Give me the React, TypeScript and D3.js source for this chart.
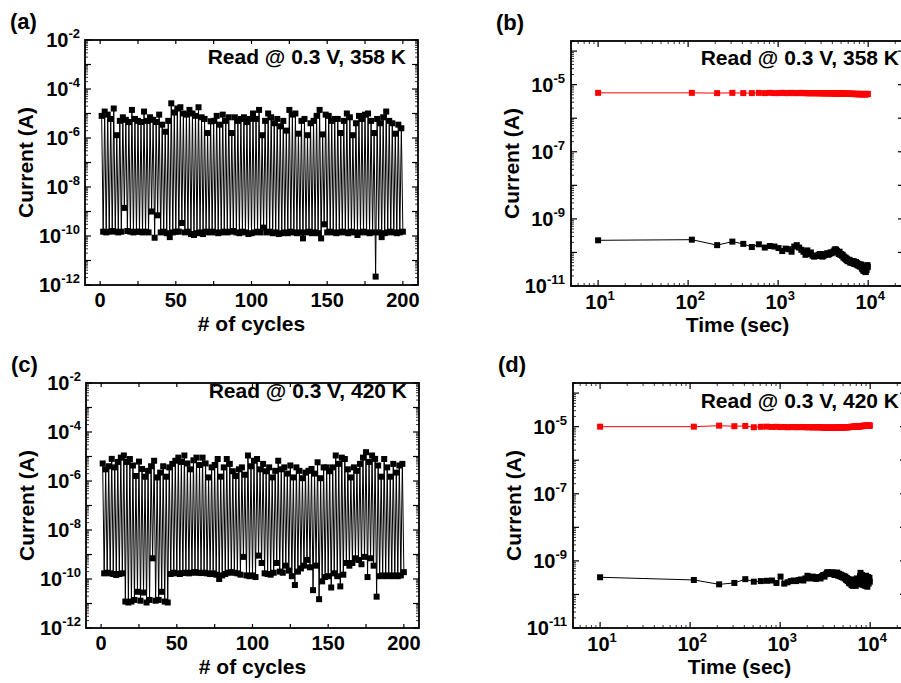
import React from 'react';
import * as d3 from 'd3';

// ---------- DATA ----------
// Panel (a) 358 K cycling: high (LRS) and low (HRS) read currents, cycle 2k+1 / 2k+2
const aHigh = [
  8e-6, 1.2e-5, 9e-6, 6e-6, 1.6e-5, 1.3e-6, 5e-6, 7e-6, 5.5e-6, 4.5e-6,
  1.4e-5, 6e-6, 5e-6, 4.5e-6, 1.2e-5, 5e-6, 7e-6, 5.5e-6, 4.5e-6, 9e-6,
  3.5e-6, 1.8e-6, 5e-6, 2.6e-5, 1.1e-5, 1.6e-5, 1.8e-5, 1e-5, 9e-6, 1.4e-5,
  1e-5, 8e-6, 1.8e-5, 7e-6, 6e-6, 1.6e-6, 4.8e-6, 5e-6, 8e-6, 3.5e-6,
  9e-6, 5e-6, 7e-6, 1.6e-6, 7e-6, 5e-6, 6e-6, 7e-6, 4.5e-6, 6e-6,
  1e-5, 6e-6, 1.4e-5, 1.3e-6, 5e-6, 1e-5, 7e-6, 4e-6, 6e-6, 3e-6,
  5e-6, 2e-6, 1.4e-5, 9e-6, 1e-5, 1.5e-6, 5e-6, 6e-6, 1.3e-6, 4e-6,
  5e-6, 8e-6, 1.4e-5, 1.4e-6, 9e-6, 8e-6, 5e-6, 6e-6, 6e-6, 1.6e-6,
  5e-6, 1e-5, 7e-6, 1.3e-6, 4e-6, 8e-6, 6e-6, 9e-6, 1e-5, 5e-6,
  1.6e-6, 6e-6, 4e-6, 7e-6, 1.2e-5, 5e-6, 4e-6, 1.5e-6, 3.5e-6, 2.5e-6,
];
const aLow = [
  1.5e-10, 1.4e-10, 1.5e-10, 1.6e-10, 1.5e-10, 1.4e-10, 1.5e-10, 1.4e-9, 1.6e-10, 1.5e-10,
  1.4e-10, 1.5e-10, 1.5e-10, 1.4e-10, 1.5e-10, 1.4e-10, 1e-9, 8.5e-11, 7e-10, 1.4e-10,
  1.5e-10, 1.3e-10, 9e-11, 1.4e-10, 1.5e-10, 1.5e-10, 3.4e-10, 1.4e-10, 1.5e-10, 1.2e-10,
  1.1e-10, 1.3e-10, 1.4e-10, 1.2e-10, 1.5e-10, 1.4e-10, 1.5e-10, 1.4e-10, 1.3e-10, 1.4e-10,
  1.5e-10, 1.4e-10, 1.5e-10, 1.6e-10, 1.4e-10, 1.3e-10, 1.5e-10, 1.4e-10, 1.2e-10, 1.3e-10,
  1.4e-10, 1.5e-10, 1.4e-10, 2.2e-10, 1.4e-10, 1.5e-10, 1.3e-10, 1.4e-10, 1.2e-10, 1.3e-10,
  1.4e-10, 1.3e-10, 1.5e-10, 1.4e-10, 1.3e-10, 1.4e-10, 8e-11, 1.4e-10, 1.5e-10, 1.3e-10,
  1.4e-10, 1.3e-10, 8e-11, 3e-10, 1.4e-10, 1.5e-10, 1.4e-10, 1.3e-10, 1.4e-10, 1.5e-10,
  1.4e-10, 1.3e-10, 1.5e-10, 1.4e-10, 1.1e-10, 1.4e-10, 1.5e-10, 1.4e-10, 1.3e-10, 1.4e-10,
  2.2e-12, 1.4e-10, 9e-11, 1.3e-10, 1.4e-10, 1.5e-10, 1.4e-10, 1.3e-10, 1.4e-10, 1.5e-10,
];
// Panel (c) 420 K cycling
const cHigh = [
  5.2e-6, 3e-6, 4e-6, 8e-6, 3.6e-6, 6e-6, 9e-6, 1.1e-5, 6e-6, 7.9e-6,
  4.3e-6, 1.6e-6, 6.2e-6, 3.1e-6, 1.5e-6, 2.6e-6, 4e-6, 6.7e-6, 1.4e-6, 2.2e-6,
  4e-6, 1.5e-6, 3.6e-6, 5e-6, 6.7e-6, 9e-6, 6e-6, 1.1e-5, 5.2e-6, 3e-6,
  7e-6, 9e-6, 4.5e-6, 9e-6, 5.2e-6, 1.4e-6, 3.6e-6, 4.5e-6, 7.9e-6, 1.5e-6,
  3.6e-6, 7.9e-6, 5e-6, 2.5e-6, 1.6e-6, 3e-6, 3.6e-6, 1.8e-6, 1.1e-5, 4e-6,
  6.7e-6, 7.9e-6, 3e-6, 5e-6, 2.5e-6, 3.6e-6, 1.4e-6, 2.6e-6, 6.7e-6, 3e-6,
  3.6e-6, 2e-6, 4.3e-6, 1.4e-6, 3.6e-6, 2.6e-6, 1.3e-6, 2.2e-6, 2.6e-6, 3.1e-6,
  2e-6, 5.8e-6, 1.3e-6, 3.6e-6, 3.6e-6, 2.5e-6, 3.6e-6, 1.1e-5, 5e-6, 9e-6,
  7.9e-6, 3e-6, 1.4e-6, 3.6e-6, 2.6e-6, 5e-6, 9e-6, 1.5e-5, 6e-6, 1.1e-5,
  8e-6, 4.3e-6, 1.5e-6, 7.9e-6, 3.6e-6, 1.5e-6, 5e-6, 2.2e-6, 4.3e-6, 5e-6,
];
const cLow = [
  1.7e-10, 1.8e-10, 1.7e-10, 1.6e-10, 1.45e-10, 1.6e-10, 1.7e-10, 1.2e-11, 1.1e-11, 1.2e-11,
  1.4e-11, 3e-11, 1.3e-11, 2.8e-11, 1.1e-11, 1.4e-11, 7e-10, 1.3e-11, 1.4e-11, 3e-11,
  1.2e-11, 1.1e-11, 1.6e-10, 1.8e-10, 1.7e-10, 1.6e-10, 1.75e-10, 1.8e-10, 1.7e-10, 1.8e-10,
  1.9e-10, 1.8e-10, 1.75e-10, 1.8e-10, 1.7e-10, 1.6e-10, 1.7e-10, 1.5e-10, 1e-10, 1.4e-10,
  1.6e-10, 1.8e-10, 1.9e-10, 1.8e-10, 1.7e-10, 1.5e-10, 8e-10, 1.4e-10, 1.3e-10, 1.4e-10,
  1.2e-10, 9e-10, 4.5e-10, 1.7e-10, 1.6e-10, 1.5e-10, 1.8e-10, 4.5e-10, 2e-10, 1.8e-10,
  3.5e-10, 2.2e-10, 1.3e-10, 5.7e-11, 2e-10, 2.7e-10, 3.5e-10, 6e-10, 3e-10, 3.5e-11,
  3.5e-10, 1.5e-11, 8e-11, 1.2e-10, 1.3e-10, 4.5e-11, 1.7e-10, 1.3e-10, 5e-11, 1.5e-10,
  4.5e-10, 3.5e-10, 4.5e-10, 7e-10, 6e-10, 4e-10, 8e-10, 1.2e-10, 7e-10, 3.5e-10,
  1.9e-11, 1.3e-10, 1.4e-10, 1.3e-10, 1.4e-10, 1.3e-10, 1.4e-10, 1.3e-10, 1.4e-10, 1.9e-10,
];
// Retention time (sec)
const retTime = [
  10, 110, 210, 310, 410, 510, 610, 710, 810, 910,
  1010, 1110, 1210, 1310, 1410, 1510, 1610, 1710, 1810, 1910,
  2010, 2110, 2210, 2310, 2410, 2510, 2610, 2710, 2810, 2910,
  3010, 3110, 3210, 3310, 3410, 3510, 3610, 3710, 3810, 3910,
  4010, 4110, 4210, 4310, 4410, 4510, 4610, 4710, 4810, 4910,
  5010, 5110, 5210, 5310, 5410, 5510, 5610, 5710, 5810, 5910,
  6010, 6110, 6210, 6310, 6410, 6510, 6610, 6710, 6810, 6910,
  7010, 7110, 7210, 7310, 7410, 7510, 7610, 7710, 7810, 7910,
  8010, 8110, 8210, 8310, 8410, 8510, 8610, 8710, 8810, 8910,
  9010, 9110, 9210, 9310, 9410, 9510, 9610, 9710, 9810, 9910,
];
// Panel (b) 358 K retention
const bRed = [
  5.7e-6, 5.7e-6, 5.6e-6, 5.7e-6, 5.6e-6, 5.6e-6, 5.7e-6, 5.6e-6, 5.7e-6, 5.6e-6,
  5.6e-6, 5.7e-6, 5.6e-6, 5.6e-6, 5.7e-6, 5.6e-6, 5.6e-6, 5.6e-6, 5.7e-6, 5.6e-6,
  5.6e-6, 5.6e-6, 5.5e-6, 5.6e-6, 5.6e-6, 5.5e-6, 5.6e-6, 5.6e-6, 5.5e-6, 5.6e-6,
  5.5e-6, 5.6e-6, 5.5e-6, 5.5e-6, 5.6e-6, 5.5e-6, 5.5e-6, 5.5e-6, 5.6e-6, 5.5e-6,
  5.5e-6, 5.5e-6, 5.4e-6, 5.5e-6, 5.5e-6, 5.4e-6, 5.5e-6, 5.5e-6, 5.4e-6, 5.5e-6,
  5.4e-6, 5.4e-6, 5.5e-6, 5.4e-6, 5.4e-6, 5.4e-6, 5.3e-6, 5.4e-6, 5.4e-6, 5.3e-6,
  5.4e-6, 5.3e-6, 5.3e-6, 5.4e-6, 5.3e-6, 5.3e-6, 5.3e-6, 5.4e-6, 5.3e-6, 5.3e-6,
  5.3e-6, 5.2e-6, 5.3e-6, 5.3e-6, 5.2e-6, 5.3e-6, 5.3e-6, 5.2e-6, 5.3e-6, 5.2e-6,
  5.3e-6, 5.2e-6, 5.2e-6, 5.3e-6, 5.2e-6, 5.2e-6, 5.3e-6, 5.2e-6, 5.2e-6, 5.2e-6,
  5.3e-6, 5.2e-6, 5.2e-6, 5.2e-6, 5.3e-6, 5.2e-6, 5.2e-6, 5.3e-6, 5.2e-6, 5.3e-6,
];
const bBlack = [
  2.3e-10, 2.4e-10, 1.65e-10, 2.1e-10, 1.8e-10, 1.45e-10, 1.75e-10, 1.4e-10, 1.55e-10, 1.5e-10,
  1.35e-10, 1.1e-10, 1.3e-10, 1.25e-10, 1.05e-10, 1.5e-10, 1.65e-10, 1.4e-10, 1.2e-10, 1.05e-10,
  8.5e-11, 1.15e-10, 9e-11, 1e-10, 8e-11, 7.5e-11, 8e-11, 7.8e-11, 8.5e-11, 9e-11,
  8e-11, 7.5e-11, 8e-11, 8.5e-11, 9e-11, 9.5e-11, 8.5e-11, 9e-11, 1e-10, 9.5e-11,
  1e-10, 1.05e-10, 1.15e-10, 1.25e-10, 1.2e-10, 1.1e-10, 1e-10, 9e-11, 1.05e-10, 8.5e-11,
  9e-11, 8e-11, 8.5e-11, 7e-11, 7.5e-11, 6.5e-11, 7e-11, 6e-11, 6.5e-11, 5.5e-11,
  6e-11, 5.5e-11, 6e-11, 5e-11, 5.5e-11, 5e-11, 5.5e-11, 4.8e-11, 5e-11, 5.5e-11,
  4.5e-11, 5e-11, 4.6e-11, 5.2e-11, 4.4e-11, 4.8e-11, 4.2e-11, 4.6e-11, 4e-11, 4.5e-11,
  4.2e-11, 3.8e-11, 4.4e-11, 3.9e-11, 4.3e-11, 3.3e-11, 3.8e-11, 3.2e-11, 2.9e-11, 3.5e-11,
  2.8e-11, 3.3e-11, 2.7e-11, 3.1e-11, 2.6e-11, 3.5e-11, 3e-11, 3.8e-11, 4.2e-11, 3.7e-11,
];
// Panel (d) 420 K retention
const dRed = [
  1e-5, 1e-5, 1.07e-5, 1.03e-5, 1.05e-5, 9.6e-6, 9.9e-6, 1e-5, 9.8e-6, 9.9e-6,
  9.7e-6, 9.8e-6, 9.6e-6, 9.7e-6, 9.8e-6, 9.6e-6, 9.7e-6, 9.8e-6, 9.7e-6, 9.6e-6,
  9.7e-6, 9.6e-6, 9.7e-6, 9.5e-6, 9.6e-6, 9.7e-6, 9.6e-6, 9.5e-6, 9.6e-6, 9.5e-6,
  9.4e-6, 9.5e-6, 9.4e-6, 9.3e-6, 9.4e-6, 9.5e-6, 9.3e-6, 9.4e-6, 9.3e-6, 9.4e-6,
  9.3e-6, 9.4e-6, 9.5e-6, 9.4e-6, 9.3e-6, 9.4e-6, 9.5e-6, 9.4e-6, 9.5e-6, 9.6e-6,
  9.5e-6, 9.6e-6, 9.5e-6, 9.6e-6, 9.7e-6, 9.6e-6, 9.7e-6, 9.6e-6, 9.7e-6, 9.8e-6,
  9.7e-6, 9.8e-6, 9.9e-6, 9.8e-6, 9.9e-6, 1e-5, 9.9e-6, 1e-5, 1.01e-5, 1e-5,
  1.01e-5, 1.02e-5, 1.01e-5, 1.02e-5, 1.03e-5, 1.02e-5, 1.03e-5, 1.04e-5, 1.03e-5, 1.04e-5,
  1.03e-5, 1.05e-5, 1.04e-5, 1.06e-5, 1.05e-5, 1.04e-5, 1.06e-5, 1.05e-5, 1.07e-5, 1.06e-5,
  1.05e-5, 1.07e-5, 1.06e-5, 1.08e-5, 1.06e-5, 1.07e-5, 1.08e-5, 1.06e-5, 1.07e-5, 1.08e-5,
];
const dBlack = [
  3.25e-10, 2.7e-10, 2e-10, 2.2e-10, 2.85e-10, 2.4e-10, 2.5e-10, 2.55e-10, 2.6e-10, 2.2e-10,
  3.4e-10, 2.1e-10, 2.3e-10, 2.5e-10, 2.6e-10, 2.5e-10, 2.7e-10, 2.8e-10, 2.6e-10, 3e-10,
  3.6e-10, 3.2e-10, 3e-10, 3.4e-10, 3.1e-10, 2.9e-10, 3.2e-10, 3.3e-10, 3e-10, 3.5e-10,
  3.8e-10, 3.4e-10, 4e-10, 4.5e-10, 4.6e-10, 4.3e-10, 4.4e-10, 4.1e-10, 4.6e-10, 4.2e-10,
  3.8e-10, 4.3e-10, 4e-10, 4.5e-10, 3.6e-10, 4.1e-10, 3.5e-10, 3.9e-10, 3.3e-10, 3.7e-10,
  3.2e-10, 3.5e-10, 3e-10, 3.4e-10, 2.7e-10, 3.1e-10, 2.5e-10, 2.9e-10, 2.2e-10, 2.6e-10,
  2.1e-10, 2.4e-10, 1.9e-10, 2.5e-10, 1.8e-10, 2.3e-10, 2.8e-10, 2e-10, 2.6e-10, 1.8e-10,
  2.4e-10, 3e-10, 2.2e-10, 2.7e-10, 2e-10, 2.5e-10, 2.9e-10, 3.5e-10, 4.4e-10, 3.2e-10,
  2.6e-10, 3.8e-10, 2.2e-10, 2.9e-10, 1.9e-10, 3.4e-10, 2.4e-10, 3.1e-10, 1.8e-10, 2.7e-10,
  3.6e-10, 2.3e-10, 3e-10, 1.7e-10, 2.8e-10, 3.3e-10, 2.1e-10, 2.6e-10, 3.1e-10, 2.4e-10,
];

const cycleTicks = [0, 50, 100, 150, 200];
const cycleMinorTicks = [25, 75, 125, 175];
const cycleYExps = [-12, -10, -8, -6, -4, -2];
const retYExps = [-11, -9, -7, -5];
const retXExps = [1, 2, 3, 4];

const FONT = "'Liberation Sans', Arial, Helvetica, sans-serif";
const TICK_FS = 20;
const SUP_FS = 13;
const TITLE_FS = 21;

type Frame = { x0: number; y0: number; x1: number; y1: number };

function Pow({ x, y, exp, anchor }: { x: number; y: number; exp: number; anchor: string }) {
  return (
    <text x={x} y={y} textAnchor={anchor} fontFamily={FONT} fontWeight="bold" fontSize={TICK_FS}>
      10<tspan dy={-9} fontSize={SUP_FS}>{String(exp)}</tspan>
    </text>
  );
}

function logTickValues(lo: number, hi: number) {
  const major: number[] = [];
  const minor: number[] = [];
  const e0 = Math.floor(Math.log10(lo)) - 1;
  const e1 = Math.ceil(Math.log10(hi)) + 1;
  for (let e = e0; e <= e1; e++) {
    for (let m = 1; m <= 9; m++) {
      const v = m * Math.pow(10, e);
      if (v < lo * 0.9999 || v > hi * 1.0001) continue;
      if (m === 1) major.push(v);
      else minor.push(v);
    }
  }
  return { major, minor };
}

function YLogTicks({ f, y, lo, hi }: { f: Frame; y: any; lo: number; hi: number }) {
  const { major, minor } = logTickValues(lo, hi);
  const out: any[] = [];
  major.forEach((v, i) => {
    const yy = y(v);
    out.push(<line key={'ml' + i} x1={f.x0} x2={f.x0 + 6} y1={yy} y2={yy} stroke="#000" strokeWidth={1.2} />);
    out.push(<line key={'mr' + i} x1={f.x1} x2={f.x1 - 6} y1={yy} y2={yy} stroke="#000" strokeWidth={1.2} />);
  });
  minor.forEach((v, i) => {
    const yy = y(v);
    out.push(<line key={'nl' + i} x1={f.x0} x2={f.x0 + 3} y1={yy} y2={yy} stroke="#000" strokeWidth={0.8} />);
    out.push(<line key={'nr' + i} x1={f.x1} x2={f.x1 - 3} y1={yy} y2={yy} stroke="#000" strokeWidth={0.8} />);
  });
  return <g>{out}</g>;
}

function FrameRect({ f }: { f: Frame }) {
  return <rect x={f.x0} y={f.y0} width={f.x1 - f.x0} height={f.y1 - f.y0} fill="none" stroke="#000" strokeWidth={1.8} />;
}

function Titles({ f, letter, xTitle, note, noteX, noteY }: any) {
  const cy = (f.y0 + f.y1) / 2;
  const cx = (f.x0 + f.x1) / 2;
  return (
    <g fontFamily={FONT} fontWeight="bold">
      <text x={f.x0 - 75} y={f.y0 - 11} fontSize={22}>{letter}</text>
      <text transform={`translate(${f.x0 - 52},${cy}) rotate(-90)`} textAnchor="middle" fontSize={TITLE_FS}>Current (A)</text>
      <text x={cx} y={f.y1 + 46} textAnchor="middle" fontSize={TITLE_FS}>{xTitle}</text>
      <text x={noteX} y={noteY} textAnchor="end" fontSize={21}>{note}</text>
    </g>
  );
}

function CyclePanel({ f, high, low, letter, note, noteY }: any) {
  const x = d3.scaleLinear().domain([-10, 210]).range([f.x0, f.x1]);
  const y = d3.scaleLog().domain([1e-12, 1e-2]).range([f.y1, f.y0]);
  const pts: [number, number][] = [];
  high.forEach((h: number, k: number) => {
    pts.push([2 * k + 1, h]);
    pts.push([2 * k + 2, low[k]]);
  });
  const line = d3.line<[number, number]>().x((d) => x(d[0])).y((d) => y(d[1]));
  const s = 6;
  return (
    <g>
      <path d={line(pts) || ''} fill="none" stroke="#000" strokeWidth={1} />
      {pts.map((d, i) => (
        <rect key={i} x={x(d[0]) - s / 2} y={y(d[1]) - s / 2} width={s} height={s} fill="#000" />
      ))}
      <YLogTicks f={f} y={y} lo={1e-12} hi={1e-2} />
      {[...cycleTicks, ...cycleMinorTicks].map((t, i) => (
        <g key={'xt' + i}>
          <line x1={x(t)} x2={x(t)} y1={f.y1} y2={f.y1 - 4} stroke="#000" strokeWidth={1.2} />
          <line x1={x(t)} x2={x(t)} y1={f.y0} y2={f.y0 + 4} stroke="#000" strokeWidth={1.2} />
        </g>
      ))}
      {cycleTicks.map((t) => (
        <text key={'xl' + t} x={x(t)} y={f.y1 + 22} textAnchor="middle" fontFamily={FONT} fontWeight="bold" fontSize={TICK_FS}>{t}</text>
      ))}
      {cycleYExps.map((e) => (
        <Pow key={'yl' + e} x={f.x0 - 5} y={y(Math.pow(10, e)) + 7} exp={e} anchor="end" />
      ))}
      <FrameRect f={f} />
      <Titles f={f} letter={letter} xTitle="# of cycles" note={note} noteX={f.x1 - 12} noteY={noteY} />
    </g>
  );
}

function RetPanel({ f, red, black, letter, note, noteX, noteY }: any) {
  const x = d3.scaleLog().domain([5, 2.5e4]).range([f.x0, f.x1]);
  const y = d3.scaleLog().domain([1e-11, 2e-4]).range([f.y1, f.y0]);
  const line = d3.line<number>().x((_, i) => x(retTime[i])).y((d) => y(d));
  const s = 6;
  const xt = logTickValues(5, 2.5e4);
  return (
    <g>
      <path d={line(black) || ''} fill="none" stroke="#000" strokeWidth={1} />
      {black.map((v: number, i: number) => (
        <rect key={'b' + i} x={x(retTime[i]) - s / 2} y={y(v) - s / 2} width={s} height={s} fill="#000" />
      ))}
      <path d={line(red) || ''} fill="none" stroke="#ff0000" strokeWidth={1} />
      {red.map((v: number, i: number) => (
        <rect key={'r' + i} x={x(retTime[i]) - s / 2} y={y(v) - s / 2} width={s} height={s} fill="#ff0000" />
      ))}
      <YLogTicks f={f} y={y} lo={1e-11} hi={2e-4} />
      {xt.major.map((v, i) => (
        <g key={'xm' + i}>
          <line x1={x(v)} x2={x(v)} y1={f.y1} y2={f.y1 - 6} stroke="#000" strokeWidth={1.2} />
          <line x1={x(v)} x2={x(v)} y1={f.y0} y2={f.y0 + 6} stroke="#000" strokeWidth={1.2} />
        </g>
      ))}
      {xt.minor.map((v, i) => (
        <g key={'xn' + i}>
          <line x1={x(v)} x2={x(v)} y1={f.y1} y2={f.y1 - 3} stroke="#000" strokeWidth={0.8} />
          <line x1={x(v)} x2={x(v)} y1={f.y0} y2={f.y0 + 3} stroke="#000" strokeWidth={0.8} />
        </g>
      ))}
      {retXExps.map((e) => (
        <Pow key={'xl' + e} x={x(Math.pow(10, e)) + 2} y={f.y1 + 23} exp={e} anchor="middle" />
      ))}
      {retYExps.map((e) => (
        <Pow key={'yl' + e} x={f.x0 - 6} y={y(Math.pow(10, e)) + 7} exp={e} anchor="end" />
      ))}
      <FrameRect f={f} />
      <Titles f={f} letter={letter} xTitle="Time (sec)" note={note} noteX={noteX} noteY={noteY} />
    </g>
  );
}

export default function App() {
  const fa: Frame = { x0: 85, y0: 40, x1: 418, y1: 285 };
  const fb: Frame = { x0: 571, y0: 41, x1: 904, y1: 286 };
  const fc: Frame = { x0: 86, y0: 383, x1: 419, y1: 628 };
  const fd: Frame = { x0: 573, y0: 383, x1: 906, y1: 628 };
  return (
    <svg width={901} height={683} style={{ position: 'absolute', left: 0, top: 0, background: '#fff' }}>
      <rect x={0} y={0} width={901} height={683} fill="#fff" />
      <CyclePanel f={fa} high={aHigh} low={aLow} letter="(a)" note="Read @ 0.3 V, 358 K" noteY={64} />
      <RetPanel f={fb} red={bRed} black={bBlack} letter="(b)" note="Read @ 0.3 V, 358 K" noteX={899} noteY={65} />
      <CyclePanel f={fc} high={cHigh} low={cLow} letter="(c)" note="Read @ 0.3 V, 420 K" noteY={398} />
      <RetPanel f={fd} red={dRed} black={dBlack} letter="(d)" note="Read @ 0.3 V, 420 K" noteX={899} noteY={408} />
    </svg>
  );
}
